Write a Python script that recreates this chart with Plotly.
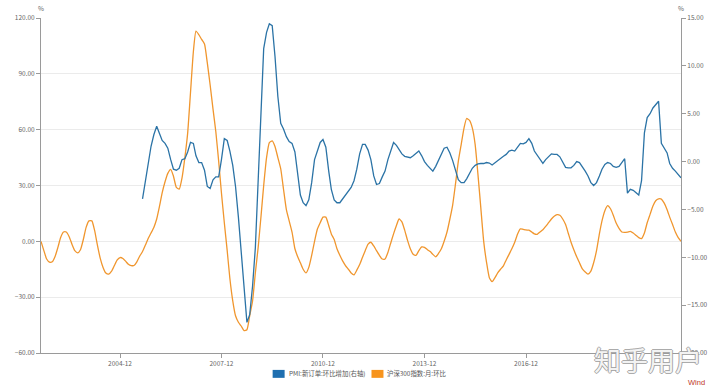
import plotly.graph_objects as go
import pandas as pd

# ---- data (monthly) ----
orange_start = "2002-08-01"
orange_name = "沪深300指数:月:环比"
orange = [
    0, -5, -9.5, -11.2, -11, -8, -3, 2, 5, 5, 2.5, -1.5,
    -5, -6.2, -4.5, 1, 7.5, 11, 11, 6, -2, -9, -14, -17,
    -17.6, -16, -13, -10, -8.7, -9.2, -10.8, -12.3, -13, -13, -11, -8,
    -5.5, -2, 1.5, 4.5, 7.5, 12, 19, 26, 32, 36.5, 38.7, 35,
    29, 28, 34, 45, 58, 80, 102, 113, 111, 108.5, 106, 96,
    84, 71, 59, 43, 26, 10, -5, -20, -32, -40, -43.5, -45.5,
    -48, -47.5, -40, -32, -17, -3, 14, 30, 45, 53, 54, 51,
    45, 39, 28, 17, 11, 5, -4, -8, -11.5, -15, -17, -14,
    -7.5, 0, 6.5, 10, 13, 13, 8.5, 4, 1, -4, -7.5, -10.5,
    -13, -15, -17, -18, -15.5, -12.5, -8.5, -5, -1.5, -0.5, -2.5, -5,
    -7.5, -9.5, -9.5, -6, -1, 4, 8.5, 12, 10.5, 6, 0.5, -4,
    -7, -7.5, -5, -3, -3.2, -4.5, -5.5, -7, -8.3, -6.5, -4, 0,
    5, 12, 19.5, 31, 43, 52, 61, 66, 65, 61, 52, 36,
    18, 0, -11, -19.5, -21.7, -19.5, -16.8, -15, -13.2, -10, -7, -4,
    -0.5, 4, 6.7, 6.4, 6.1, 6, 5, 4, 3.8, 5, 6.2, 8,
    10, 12, 13.5, 14.3, 14, 12, 9, 4.5, -0.5, -4.5, -8.3, -11.5,
    -14.8, -16.5, -17.6, -16, -11.5, -5, 4, 11, 16.5, 19.2, 17.5, 14,
    9.8, 7, 5, 4.8, 5, 5.4, 4.5, 3.3, 2, 1.5, 4.5, 10,
    14.5, 19, 21.8, 22.8, 22.7, 20.5, 17, 13, 9, 5, 2, 0,
]

blue_start = "2005-08-01"
blue_name = "PMI:新订单:环比增加(右轴)"
blue = [
    -3.9, -2, 0.2, 1.6, 2.8, 3.7, 2.9, 2.2, 1.9, 1.4, 0.2, -0.8,
    -0.9, -0.7, 0.2, 0.3, 1.0, 2.0, 1.9, 0.6, -0.1, -0.1, -0.9, -2.6,
    -2.8, -1.9, -1.6, -1.6, 0.2, 2.4, 2.2, 1.1, -0.4, -2.6, -5.8, -9.6,
    -13.6, -16.8, -16, -13, -9, -1.5, 4.5, 11.8, 13.5, 14.4, 14.2, 11,
    6.8, 4.0, 3.4, 2.6, 2.1, 1.9, 1.0, -1.2, -3.5, -4.3, -4.6, -4.0,
    -2.2, 0.2, 1.2, 2.0, 2.3, 1.5, -1.0, -2.9, -4.0, -4.3, -4.3, -3.9,
    -3.6, -3.2, -2.7, -2.0, -0.8, 0.8, 1.8, 1.8, 1.2, 0.2, -1.5, -2.4,
    -2.3, -1.6, -1.0, 0.2, 1.2, 2.0, 1.7, 1.2, 0.8, 0.55, 0.5, 0.4,
    0.6, 0.9, 1.1, 0.6, 0.0, -0.4, -0.7, -1.0, -0.5, 0.1, 0.9, 1.4,
    1.5, 0.9, 0.1, -1.0, -1.9, -2.2, -2.2, -1.8, -1.2, -0.7, -0.4, -0.25,
    -0.2, -0.2, -0.1, -0.15, -0.35, -0.1, 0.1, 0.3, 0.55, 0.75, 1.1, 1.2,
    1.1, 1.5, 1.9, 1.85, 2.0, 2.4, 1.9, 1.1, 0.7, 0.3, -0.2, 0.2,
    0.5, 0.8, 0.75, 0.75, 0.5, -0.1, -0.6, -0.65, -0.65, -0.4, 0.0, -0.1,
    -0.5, -1.0, -1.5, -2.2, -2.5, -2.2, -1.5, -0.8, -0.3, -0.1, -0.2, -0.5,
    -0.6, -0.5, -0.1, 0.3, -3.3, -2.9, -3.0, -3.2, -3.5, -2.0, 3.0, 4.6,
    5.0, 5.6, 6.0, 6.3, 1.9, 1.4, 0.9, -0.2, -0.7, -1.0, -1.3, -1.7,
]

x_tick_vals = ["2004-12-01", "2007-12-01", "2010-12-01", "2013-12-01", "2016-12-01"]
x_tick_text = ["2004-12", "2007-12", "2010-12", "2013-12", "2016-12"]
left_ticks = [-60, -30, 0, 30, 60, 90, 120]
right_ticks = [-20, -15, -10, -5, 0, 5, 10, 15]

BLUE = "#2b73a6"
ORANGE = "#f0962e"
TXT = "#666666"
AX = "#9a9a9a"
FONT = "Noto Sans CJK SC, Noto Sans, sans-serif"

orange_dates = pd.date_range(orange_start, periods=len(orange), freq="MS")
blue_dates = pd.date_range(blue_start, periods=len(blue), freq="MS")

fig = go.Figure()
fig.add_trace(go.Scatter(
    x=orange_dates, y=orange, name=orange_name, mode="lines", yaxis="y",
    line=dict(color=ORANGE, width=1.3, shape="spline", smoothing=0.5),
    showlegend=False, hoverinfo="skip"))
fig.add_trace(go.Scatter(
    x=blue_dates, y=blue, name=blue_name, mode="lines", yaxis="y2",
    line=dict(color=BLUE, width=1.3),
    showlegend=False, hoverinfo="skip"))

fig.update_layout(
    width=720, height=392,
    margin=dict(l=41, r=38, t=16, b=39, pad=0),
    paper_bgcolor="white", plot_bgcolor="white",
    font=dict(family=FONT, size=6.5, color=TXT),
    xaxis=dict(
        type="date", range=[orange_dates[0], orange_dates[-1]],
        tickvals=x_tick_vals, ticktext=x_tick_text,
        showline=True, linecolor=AX, linewidth=1,
        ticks="outside", ticklen=4, tickcolor=AX,
        showgrid=False, zeroline=False,
        tickfont=dict(size=6.5, color=TXT),
    ),
    yaxis=dict(
        range=[-60, 120], tickvals=left_ticks,
        tickformat=".2f",
        showline=True, linecolor=AX, linewidth=1,
        ticks="outside", ticklen=4, tickcolor=AX,
        showgrid=True, gridcolor="#ebebeb", gridwidth=1,
        zeroline=False, tickfont=dict(size=6.5, color=TXT),
    ),
    yaxis2=dict(
        range=[-20, 15], tickvals=right_ticks, tickformat=".2f",
        overlaying="y", side="right",
        showline=True, linecolor=AX, linewidth=1,
        ticks="outside", ticklen=4, tickcolor=AX,
        showgrid=False, zeroline=False,
        tickfont=dict(size=6.5, color=TXT),
    ),
    showlegend=False,
)

# paper-coordinate helpers (plot area: x 41..682, y 16..353)
def px(xp):
    return (xp - 41) / 641.0

def py(yp):
    return (353 - yp) / 337.0

annotations = [
    dict(x=px(41), y=py(6), text="%", showarrow=False, xref="paper", yref="paper",
         font=dict(size=6.5, color=TXT), xanchor="center", yanchor="middle"),
    dict(x=px(682), y=py(6), text="%", showarrow=False, xref="paper", yref="paper",
         font=dict(size=6.5, color=TXT), xanchor="center", yanchor="middle"),
    dict(x=px(287), y=py(374), text=blue_name, showarrow=False, xref="paper", yref="paper",
         font=dict(size=6.4, color="#555555"), xanchor="left", yanchor="middle"),
    dict(x=px(386), y=py(374), text=orange_name, showarrow=False, xref="paper", yref="paper",
         font=dict(size=6.4, color="#555555"), xanchor="left", yanchor="middle"),
    dict(x=px(649), y=py(360), text="知乎用户", showarrow=False, xref="paper", yref="paper",
         font=dict(size=27, color="rgba(255,255,255,0.9)", family=FONT,
                   shadow="1px 0 0 #a0a0a0, -1px 0 0 #a0a0a0, 0 1px 0 #a0a0a0, 0 -1px 0 #a0a0a0"),
         xanchor="center", yanchor="middle"),
    dict(x=px(698), y=py(383), text="Wind", showarrow=False, xref="paper", yref="paper",
         font=dict(size=7.5, color="#c0392b", family="Liberation Sans, Arial, sans-serif"),
         xanchor="center", yanchor="middle"),
]
fig.update_layout(annotations=annotations)

shapes = [
    dict(type="rect", xref="paper", yref="paper",
         x0=px(273), x1=px(285), y0=py(378), y1=py(370),
         fillcolor="#1f6fb0", line=dict(width=0)),
    dict(type="rect", xref="paper", yref="paper",
         x0=px(372), x1=px(384), y0=py(378), y1=py(370),
         fillcolor="#f7941d", line=dict(width=0)),
]
fig.update_layout(shapes=shapes)

fig.write_html(
    "out.html",
    config={"displayModeBar": False},
    post_script="document.body.style.margin='0';document.body.style.padding='0';",
)
